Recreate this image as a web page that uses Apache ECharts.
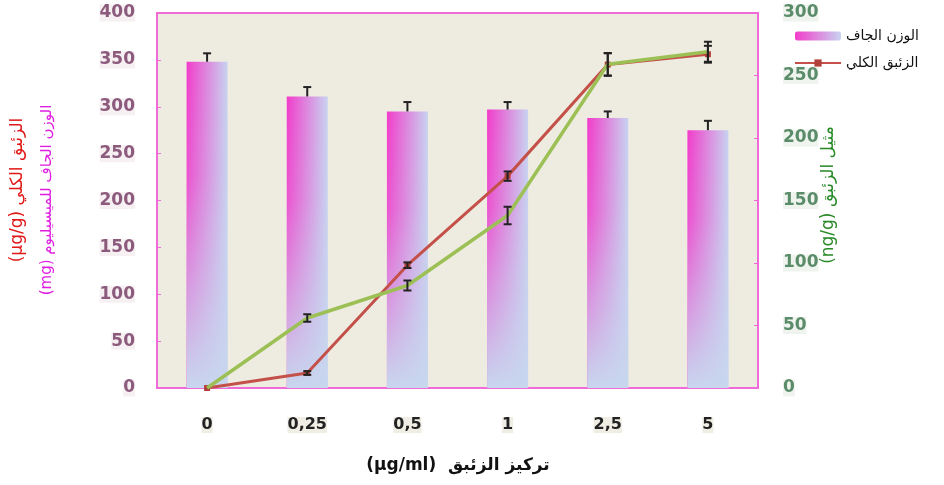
<!DOCTYPE html>
<html>
<head>
<meta charset="utf-8">
<script src="https://cdn.jsdelivr.net/npm/echarts@6/dist/echarts.min.js"></script>
<style>html,body{margin:0;padding:0;background:#fff}#c{width:944px;height:485px}</style>
</head>
<body>
<div id="c"></div>
<script>
// ---- data ----
var categories = ['0', '0,25', '0,5', '1', '2,5', '5'];
var dryWeight = [348, 311, 295, 297, 288, 275];          // mg (left axis) bars
var dryWeightErr = [9, 10, 10, 8, 7, 10];
var totalHg = [0, 16, 131, 226, 345, 356];                // µg/g (left axis) red line
var totalHgErr = [0, 2, 3, 5, 12, 9];
var methylHg = [0, 56, 82, 138, 259, 269];                // ng/g (right axis) green line
var methylHgErr = [0, 3, 4, 7, 9, 8];
var leftTicks = [0, 400, 50];
var rightTicks = [0, 300, 50];

var names = {
  bar: 'الوزن الجاف',
  red: 'الزئبق الكلي',
  green: 'مثيل الزئبق'
};

var chart = echarts.init(document.getElementById('c'), null, {renderer: 'canvas'});
var pink = '#f06ad8';
var AR = 'DejaVu Sans';

function errSeries(vals, errs, axis, upOnly, z) {
  return {
    type: 'custom',
    yAxisIndex: axis,
    z: z,
    silent: true,
    data: vals.map(function (v, i) { return [i, v, errs[i]]; }),
    renderItem: function (params, api) {
      var x = api.value(0), y = api.value(1), e = api.value(2);
      if (!e) return null;
      var top = api.coord([x, y + e]);
      var bot = api.coord([x, upOnly ? y : y - e]);
      var w = 4;
      var st = {stroke: '#222', lineWidth: 2};
      var ch = [
        {type: 'line', shape: {x1: top[0], y1: top[1], x2: bot[0], y2: bot[1]}, style: st},
        {type: 'line', shape: {x1: top[0] - w, y1: top[1], x2: top[0] + w, y2: top[1]}, style: st}
      ];
      if (!upOnly) ch.push({type: 'line', shape: {x1: bot[0] - w, y1: bot[1], x2: bot[0] + w, y2: bot[1]}, style: st});
      return {type: 'group', children: ch};
    }
  };
}

var option = {
  backgroundColor: '#ffffff',
  animation: false,
  grid: {left: 157, right: 186, top: 13, bottom: 97, show: true, backgroundColor: '#eeece1', borderColor: pink, borderWidth: 2},
  legend: {
    orient: 'vertical', left: 789, top: 24, itemWidth: 46, itemHeight: 9, itemGap: 13,
    data: [names.bar, names.red],
    textStyle: {fontFamily: AR, fontSize: 14, color: '#111'}
  },
  xAxis: {
    type: 'category', data: categories, boundaryGap: true,
    axisLine: {lineStyle: {color: pink, width: 2}},
    axisTick: {inside: true, length: 4, lineStyle: {color: pink}},
    axisLabel: {margin: 29, color: '#222', fontSize: 16, fontWeight: 'bold', fontFamily: 'DejaVu Sans', backgroundColor: '#efede4'}
  },
  yAxis: [{
    type: 'value', min: leftTicks[0], max: leftTicks[1], interval: leftTicks[2],
    axisLine: {show: true, lineStyle: {color: pink, width: 2}},
    axisTick: {show: true, inside: true, length: 4, lineStyle: {color: pink}},
    splitLine: {show: false},
    axisLabel: {margin: 22, color: '#8b5a7c', fontSize: 17, fontWeight: 'bold', fontFamily: 'DejaVu Sans', backgroundColor: '#f6f0f2'}
  }, {
    type: 'value', min: rightTicks[0], max: rightTicks[1], interval: rightTicks[2],
    axisLine: {show: true, lineStyle: {color: pink, width: 2}},
    axisTick: {show: true, inside: true, length: 4, lineStyle: {color: pink}},
    splitLine: {show: false},
    axisLabel: {margin: 25, color: '#5b8c6a', fontSize: 17, fontWeight: 'bold', fontFamily: 'DejaVu Sans', backgroundColor: '#f0f4ef'}
  }],
  series: [{
    name: names.bar, type: 'bar', yAxisIndex: 0, barWidth: 41, z: 2,
    data: dryWeight,
    itemStyle: {color: new echarts.graphic.LinearGradient(0, 0, 1, 0, [
      {offset: 0, color: '#f23ccb'}, {offset: 1, color: '#c8d3f0'}])}
  }, {
    name: 'overlay', type: 'bar', yAxisIndex: 0, barWidth: 41, barGap: '-100%', z: 2, silent: true,
    data: dryWeight,
    itemStyle: {color: new echarts.graphic.LinearGradient(0, 0, 0, 1, [
      {offset: 0, color: 'rgba(200,212,238,0)'}, {offset: 0.35, color: 'rgba(200,212,238,0.15)'},
      {offset: 1, color: 'rgba(200,214,238,1)'}])}
  }, {
    name: names.red, type: 'line', yAxisIndex: 0, z: 3, data: totalHg,
    symbol: 'rect', symbolSize: 6, showSymbol: true,
    lineStyle: {color: '#c4504a', width: 3}, itemStyle: {color: '#b0403a'}
  }, {
    name: names.green, type: 'line', yAxisIndex: 1, z: 4, data: methylHg,
    symbol: 'none',
    lineStyle: {color: '#9cc056', width: 3.5}, itemStyle: {color: '#9cc056'}
  },
    errSeries(dryWeight, dryWeightErr, 0, true, 5),
    errSeries(totalHg, totalHgErr, 0, false, 6),
    errSeries(methylHg, methylHgErr, 1, false, 6)
  ],
  graphic: [{
    type: 'text', x: 18, y: 190, rotation: Math.PI / 2,
    style: {text: '(µg/g) الزئبق الكلي', fill: '#e01818', font: '17px "DejaVu Sans"', textAlign: 'center', textVerticalAlign: 'middle'}
  }, {
    type: 'text', x: 47, y: 200, rotation: Math.PI / 2,
    style: {text: '(mg) الوزن الجاف للميسيليوم', fill: '#e020e0', font: '15px "DejaVu Sans"', textAlign: 'center', textVerticalAlign: 'middle'}
  }, {
    type: 'text', x: 829, y: 195, rotation: Math.PI / 2,
    style: {text: '(ng/g) مثيل الزئبق', fill: '#2a8a2a', font: '17px "DejaVu Sans"', textAlign: 'center', textVerticalAlign: 'middle'}
  }, {
    type: 'text', x: 458, y: 466,
    style: {text: '(µg/ml)  تركيز الزئبق', fill: '#111', font: 'bold 17px "DejaVu Sans"', textAlign: 'center', textVerticalAlign: 'middle'}
  }]
};
chart.setOption(option);
</script>
</body>
</html>
